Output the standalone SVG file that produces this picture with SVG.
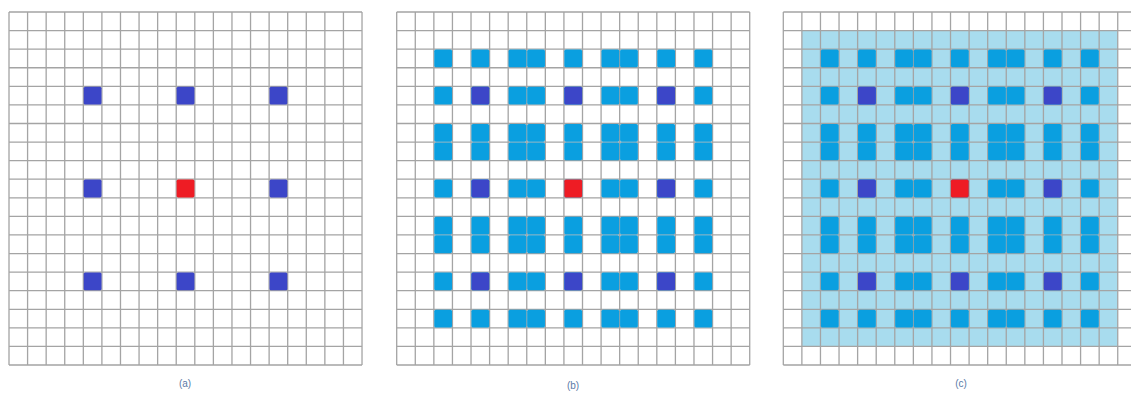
<svg xmlns="http://www.w3.org/2000/svg" xmlns:xlink="http://www.w3.org/1999/xlink" width="1131" height="394" viewBox="0 0 1131 394">
<style>
.grid{fill:none;stroke:#a4a4a4;stroke-width:1.3}
.mid{fill:#0a9fe0}
.dark{fill:#3c46c8}
.red{fill:#ee1c24}
.field{fill:#a8dcee}
.lbl{font-family:"Liberation Sans",Arial,sans-serif;font-size:10px;fill:#5a7aa6;text-anchor:middle}
</style>
<defs>
<path id="grid" class="grid" d="M0 0V353.02M18.58 0V353.02M37.16 0V353.02M55.74 0V353.02M74.32 0V353.02M92.9 0V353.02M111.48 0V353.02M130.06 0V353.02M148.64 0V353.02M167.22 0V353.02M185.8 0V353.02M204.38 0V353.02M222.96 0V353.02M241.54 0V353.02M260.12 0V353.02M278.7 0V353.02M297.28 0V353.02M315.86 0V353.02M334.44 0V353.02M353.02 0V353.02M0 0H353.02M0 18.58H353.02M0 37.16H353.02M0 55.74H353.02M0 74.32H353.02M0 92.9H353.02M0 111.48H353.02M0 130.06H353.02M0 148.64H353.02M0 167.22H353.02M0 185.8H353.02M0 204.38H353.02M0 222.96H353.02M0 241.54H353.02M0 260.12H353.02M0 278.7H353.02M0 297.28H353.02M0 315.86H353.02M0 334.44H353.02M0 353.02H353.02"/>
<rect id="cell" x="0.4" y="0.4" width="17.8" height="17.8" rx="1.6"/>
<g id="row" class="mid">
<use xlink:href="#cell" x="37.16"/><use xlink:href="#cell" x="74.32"/><use xlink:href="#cell" x="111.48"/><use xlink:href="#cell" x="130.06"/><use xlink:href="#cell" x="167.22"/><use xlink:href="#cell" x="204.38"/><use xlink:href="#cell" x="222.96"/><use xlink:href="#cell" x="260.12"/><use xlink:href="#cell" x="297.28"/>
</g>
<g id="dil">
<g class="dark">
<use xlink:href="#cell" x="74.32" y="74.32"/><use xlink:href="#cell" x="167.22" y="74.32"/><use xlink:href="#cell" x="260.12" y="74.32"/>
<use xlink:href="#cell" x="74.32" y="167.22"/><use xlink:href="#cell" x="260.12" y="167.22"/>
<use xlink:href="#cell" x="74.32" y="260.12"/><use xlink:href="#cell" x="167.22" y="260.12"/><use xlink:href="#cell" x="260.12" y="260.12"/>
</g>
<use xlink:href="#cell" class="red" x="167.22" y="167.22"/>
</g>
<g id="full">
<use xlink:href="#row" y="37.16"/><use xlink:href="#row" y="74.32"/><use xlink:href="#row" y="111.48"/><use xlink:href="#row" y="130.06"/><use xlink:href="#row" y="167.22"/><use xlink:href="#row" y="204.38"/><use xlink:href="#row" y="222.96"/><use xlink:href="#row" y="260.12"/><use xlink:href="#row" y="297.28"/>
<use xlink:href="#dil"/>
</g>
</defs>
<g id="panel-a" transform="translate(9,12)">
<use xlink:href="#grid"/>
<use xlink:href="#dil"/>
</g>
<g id="panel-b" transform="translate(396.7,12)">
<use xlink:href="#grid"/>
<use xlink:href="#full"/>
</g>
<g id="panel-c" transform="translate(783.3,12)">
<rect class="field" x="18.58" y="18.58" width="315.86" height="315.86"/>
<use xlink:href="#grid"/>
<use xlink:href="#full"/>
</g>
<g id="labels">
<text class="lbl" x="185" y="387">(a)</text>
<text class="lbl" x="573" y="389">(b)</text>
<text class="lbl" x="961" y="387">(c)</text>
</g>
</svg>
